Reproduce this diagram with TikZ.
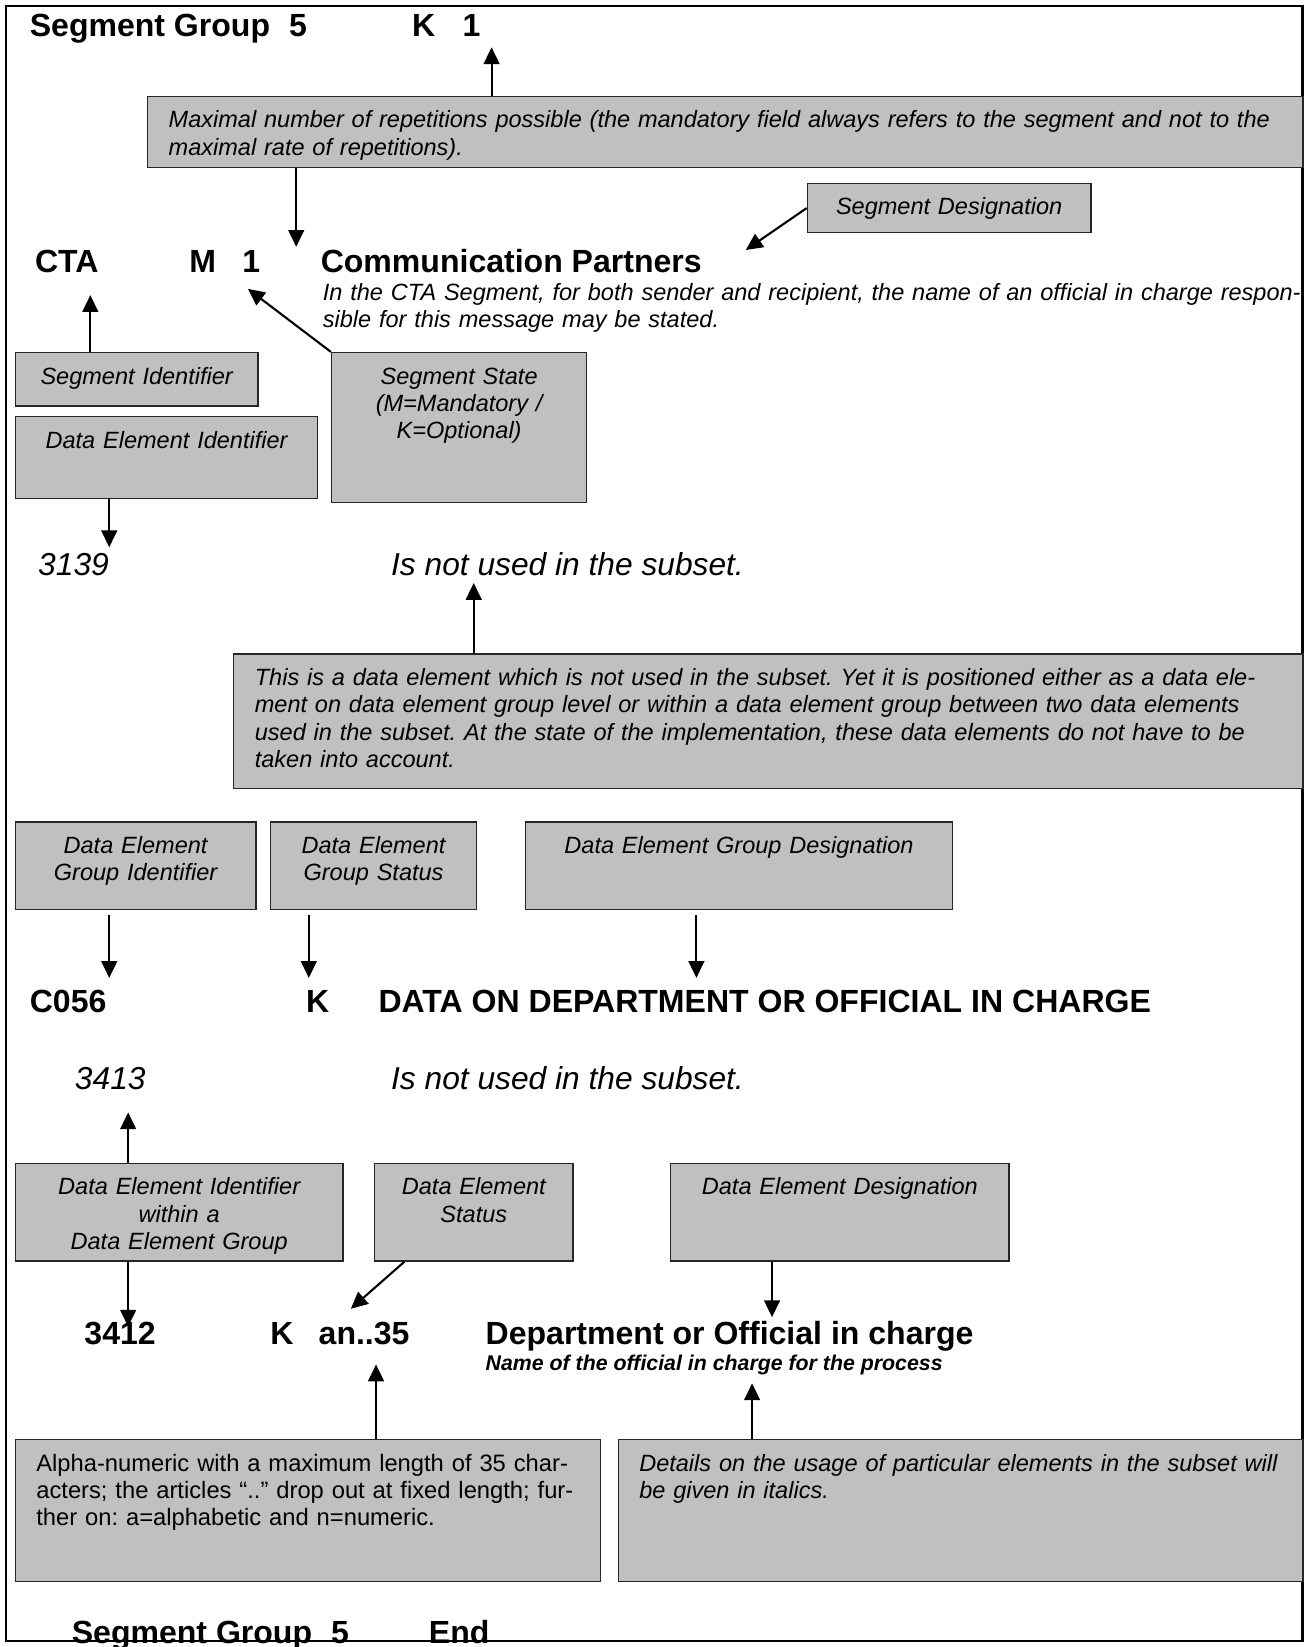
\documentclass[tikz,border=0pt]{standalone}
\usepackage{fontspec}
\setmainfont{Liberation Sans}
\usetikzlibrary{arrows.meta}
\definecolor{gris}{RGB}{192,192,192}
\frenchspacing

\begin{document}
\begin{tikzpicture}[x=0.5pt,y=-0.5pt,
    boite/.style={draw=black!85, line width=0.6pt, fill=gris, anchor=north west,
        inner xsep=10pt, inner ysep=0pt, text height=15pt,
        font=\fontsize{11.2}{13}\selectfont\itshape},
    titre/.style={anchor=base west, inner sep=0pt, font=\fontsize{15.25}{18}\selectfont\bfseries},
    grand/.style={anchor=base west, inner sep=0pt, font=\fontsize{15.1}{18}\selectfont\itshape},
    fleche/.style={-{Triangle[length=8pt,width=7.5pt]}, line width=1pt}]
    \useasboundingbox (0,0) rectangle (1245,1568);
    % Cadre
    \draw[line width=1pt] (6,6) rectangle (1240,1562);
    % Segment
    \node[titre] (sg) at (28,35) {Segment Group\hspace{9pt}5};
    \node[titre] (kun) at (392,35) {K\hspace{13pt}1};
    \node[boite, text width=530pt, text depth=19pt, align=left] (rep) at (140,91)
        {Maximal number of repetitions possible (the mandatory field always refers to the segment and not to the\\maximal rate of repetitions).};
    \node[boite, text width=115pt, text depth=8.5pt, align=center] (desig) at (768,174) {Segment Designation};
    \node[titre] (cta) at (33,259) {CTA};
    \node[titre] (mun) at (180,259) {M\hspace{12.5pt}1};
    \node[titre] (comm) at (305,259) {Communication Partners};
    \node[anchor=base west, inner sep=0pt, text width=480pt, align=left,
        font=\fontsize{11.2}{13}\selectfont\itshape] (commtxt) at (307,286)
        {In the CTA Segment, for both sender and recipient, the name of an official in charge respon-\\sible for this message may be stated.};
    \node[boite, text width=95.5pt, text depth=10.5pt, align=center] (segid) at (14,335) {Segment Identifier};
    \node[boite, text width=101.5pt, text depth=56.5pt, align=center] (segetat) at (315,335)
        {Segment State\\(M=Mandatory /\\K=Optional)};
    \node[boite, text width=124pt, text depth=24pt, align=center] (deid) at (14,396) {Data Element Identifier};
    \coordinate (pK) at (468,45);
    \coordinate (pM) at (282,235);
    \coordinate (pComm) at (710,238);
    \coordinate (pCTA) at (86,281);
    \coordinate (pEtat) at (236,275);
    \draw[fleche] (rep.north -| pK) -- (pK);
    \draw[fleche] (rep.south -| pM) -- (pM);
    \draw[fleche] (desig.west) -- (pComm);
    \draw[fleche] (segid.north -| pCTA) -- (pCTA);
    \draw[fleche] (segetat.north west) -- (pEtat);
    % Element non utilise
    \node[grand] (n3139) at (36,548) {3139};
    \node[grand] (nonu1) at (372,548) {Is not used in the subset.};
    \node[boite, text width=489pt, text depth=49pt, align=left] (nonutil) at (222,622)
        {This is a data element which is not used in the subset. Yet it is positioned either as a data ele-\\ment on data element group level or within a data element group between two data elements\\used in the subset. At the state of the implementation, these data elements do not have to be\\taken into account.};
    \coordinate (p3139) at (104,521);
    \coordinate (pNU) at (451,555);
    \draw[fleche] (deid.south -| p3139) -- (p3139);
    \draw[fleche] (nonutil.north -| pNU) -- (pNU);
    % Groupe d'elements
    \node[boite, text width=94.5pt, text depth=26.5pt, align=center] (grpid) at (14,782) {Data Element\\Group Identifier};
    \node[boite, text width=78pt, text depth=26.5pt, align=center] (grpetat) at (257,782) {Data Element\\Group Status};
    \node[boite, text width=183pt, text depth=26.5pt, align=center] (grpdesig) at (500,782) {Data Element Group Designation};
    \node[titre] (c056) at (28,964) {C056};
    \node[titre] (kdeux) at (291,964) {K};
    \node[titre] (data) at (360,964) {DATA ON DEPARTMENT OR OFFICIAL IN CHARGE};
    \foreach \b/\p/\x in {grpid/pC/104, grpetat/pKd/294, grpdesig/pData/663} {
        \coordinate (\p) at (\x,931);
        \draw[fleche, shorten <=2.5pt] (\b.south -| \p) -- (\p);
    }
    % Elements du groupe
    \node[grand] (n3413) at (71,1037) {3413};
    \node[grand] (nonu2) at (372,1037) {Is not used in the subset.};
    \node[boite, text width=136pt, text depth=31.5pt, align=center] (elid) at (14,1107)
        {Data Element Identifier\\within a\\Data Element Group};
    \node[boite, text width=74.5pt, text depth=31.5pt, align=center] (eletat) at (356,1107) {Data Element\\Status};
    \node[boite, text width=141pt, text depth=31.5pt, align=center] (eldesig) at (638,1107) {Data Element Designation};
    \node[titre] (n3412) at (80,1280) {3412};
    \node[titre] (ktrois) at (257,1280) {K};
    \node[titre] (an) at (303,1280) {an..35};
    \node[titre] (dept) at (462,1280) {Department or Official in charge};
    \node[anchor=base west, inner sep=0pt, font=\fontsize{10.15}{12}\selectfont\bfseries\itshape] (nom) at (462,1305)
        {Name of the official in charge for the process};
    \node[boite, text width=258.5pt, text depth=52.5pt, align=left, font=\fontsize{11.3}{13}\selectfont\upshape] (alpha) at (14,1370)
        {Alpha-numeric with a maximum length of 35 char-\\acters; the articles “..” drop out at fixed length; fur-\\ther on: a=alphabetic and n=numeric.};
    \node[boite, text width=306pt, text depth=52.5pt, align=left] (details) at (588,1370)
        {\mbox{Details on the usage of particular elements in the subset will}\\be given in italics.};
    \coordinate (p3413) at (122,1059);
    \coordinate (p3412) at (122,1263);
    \coordinate (pStat) at (334,1246);
    \coordinate (pDesig) at (735,1254);
    \coordinate (pAn) at (358,1299);
    \coordinate (pNom) at (716,1317);
    \draw[fleche] (elid.north -| p3413) -- (p3413);
    \draw[fleche] (elid.south -| p3412) -- (p3412);
    \draw[fleche] ([xshift=14.5pt]eletat.south west) -- (pStat);
    \draw[fleche] (eldesig.south -| pDesig) -- (pDesig);
    \draw[fleche] (alpha.north -| pAn) -- (pAn);
    \draw[fleche] (details.north -| pNom) -- (pNom);
    % Fin
    \node[titre] (sgfin) at (68,1565) {Segment Group\hspace{9pt}5};
    \node[titre] (fin) at (408,1565) {End};
\end{tikzpicture}
\end{document}
